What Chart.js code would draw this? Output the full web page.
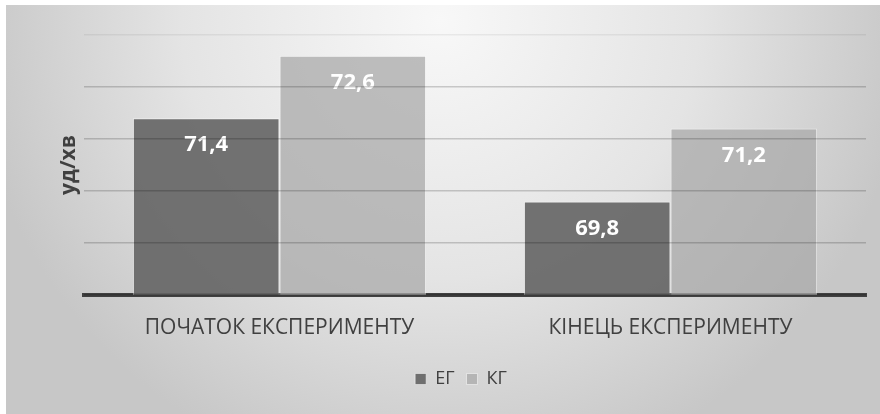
<!DOCTYPE html>
<html>
<head>
<meta charset="utf-8">
<script src="https://cdn.jsdelivr.net/npm/chart.js@4/dist/chart.umd.min.js"></script>
<style>
  html, body { margin: 0; padding: 0; background: #fff; }
  #wrap { width: 880px; height: 414px; }
</style>
</head>
<body>
<div id="wrap"><canvas id="pulseChart" width="880" height="414"></canvas></div>
<script>
var categories = ["ПОЧАТОК ЕКСПЕРИМЕНТУ", "КІНЕЦЬ ЕКСПЕРИМЕНТУ"]
var egValues = [71.4, 69.8]
var kgValues = [72.6, 71.2]
var seriesNames = ["ЕГ", "КГ"]
var axisTitle = "уд/хв"

var FONT = "'Open Sans', 'Noto Sans', sans-serif"

// gradient panel behind the chart
var panelBg = {
   id: "panelBg",
   beforeDraw: function (chart) {
      var c = chart.ctx
      c.save()
      c.fillStyle = "#ffffff"
      c.fillRect(0, 0, chart.width, chart.height)
      var g = c.createRadialGradient(440, 20, 0, 440, 20, 470)
      g.addColorStop(0, "#f8f8f8")
      g.addColorStop(0.55, "#e4e4e4")
      g.addColorStop(1, "#c7c7c7")
      c.fillStyle = g
      c.fillRect(6, 5, chart.width - 6, chart.height - 5)
      c.restore()
   },
}

// value labels inside the bars
var barLabels = {
   id: "barLabels",
   afterDatasetsDraw: function (chart) {
      var c = chart.ctx
      c.save()
      c.font = "bold 22px " + FONT
      c.fillStyle = "#ffffff"
      c.textAlign = "center"
      c.textBaseline = "middle"
      chart.data.datasets.forEach(function (ds, i) {
         chart.getDatasetMeta(i).data.forEach(function (bar, j) {
            c.fillText(String(ds.data[j]).replace(".", ","), bar.x, bar.y + 27)
         })
      })
      c.restore()
   },
}

var ctx = document.getElementById("pulseChart").getContext("2d")
var chart = new Chart(ctx, {
   type: "bar",
   data: {
      labels: categories,
      datasets: [
         {
            label: seriesNames[0],
            data: egValues,
            backgroundColor: "rgba(100,100,100,0.9)",
            borderColor: "rgba(255,255,255,0.5)",
            borderWidth: 1,
         },
         {
            label: seriesNames[1],
            data: kgValues,
            backgroundColor: "rgba(170,170,170,0.75)",
            borderColor: "rgba(255,255,255,0.5)",
            borderWidth: 1,
         },
      ],
   },
   options: {
      responsive: false,
      animation: false,
      layout: { padding: { left: 56, right: 14, top: 35, bottom: 16 } },
      datasets: { bar: { categoryPercentage: 0.75, barPercentage: 1.0 } },
      plugins: {
         tooltip: { enabled: false },
         legend: {
            position: "bottom",
            labels: {
               boxWidth: 11,
               boxHeight: 11,
               padding: 12,
               color: "#404040",
               font: { family: FONT, size: 18 },
            },
         },
      },
      scales: {
         x: {
            grid: { display: false },
            border: { display: true, color: "#404040", width: 4 },
            ticks: { color: "#404040", padding: 12, font: { family: FONT, size: 21 } },
            afterFit: function (scale) { scale.height = 63 },
         },
         y: {
            min: 68,
            max: 73,
            grid: {
               z: 1,
               lineWidth: 1.5,
               color: function (c) {
                  return c.tick && c.tick.value === 73 ? "rgba(0,0,0,0.06)" : "rgba(0,0,0,0.18)"
               },
               drawTicks: false,
            },
            border: { display: false },
            ticks: { display: false, stepSize: 1 },
            title: {
               display: true,
               text: axisTitle,
               color: "#404040",
               padding: 0,
               font: { family: FONT, size: 21, weight: "bold" },
            },
            afterFit: function (scale) { scale.width = 28 },
         },
      },
   },
   plugins: [panelBg, barLabels],
})
</script>
</body>
</html>
